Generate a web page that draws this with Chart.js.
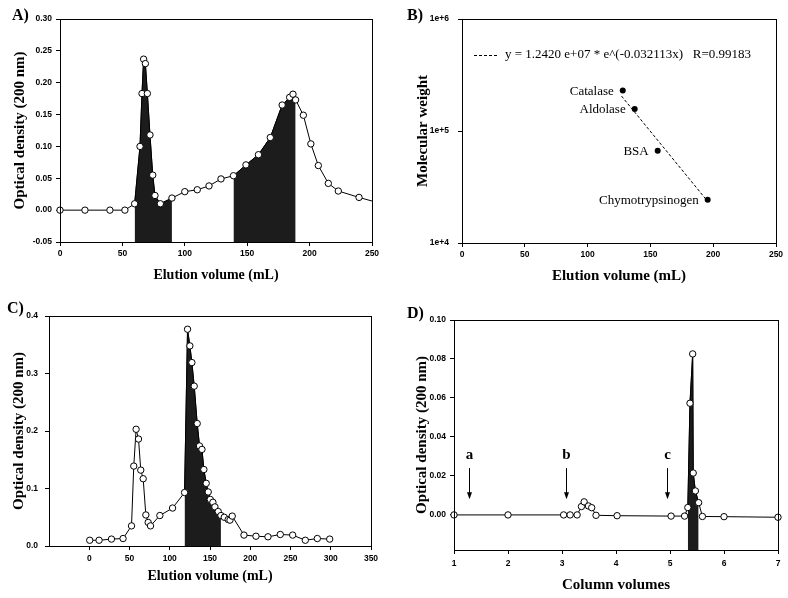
<!DOCTYPE html>
<html>
<head>
<meta charset="utf-8">
<script src="https://cdn.jsdelivr.net/npm/chart.js@4.4.0/dist/chart.umd.min.js"></script>
<style>
body { margin: 0; background: #fff; }
#wrap { position: relative; width: 788px; height: 598px; overflow: hidden; }
canvas { position: absolute; }
.panel { position: absolute; font: bold 16px "Liberation Serif", "Times New Roman", serif; line-height: 16px; color: #000; }
</style>
</head>
<body>
<div id="wrap">
  <canvas id="chartA" width="394" height="296" style="left:0;top:0"></canvas>
  <canvas id="chartB" width="394" height="296" style="left:394px;top:0"></canvas>
  <canvas id="chartC" width="394" height="302" style="left:0;top:296px"></canvas>
  <canvas id="chartD" width="394" height="302" style="left:394px;top:296px"></canvas>
  <div class="panel" style="left:12px;top:7px">A)</div>
  <div class="panel" style="left:407px;top:7px">B)</div>
  <div class="panel" style="left:7px;top:300px">C)</div>
  <div class="panel" style="left:407px;top:305px">D)</div>
</div>
<script>
// A) first column, elution profile
var aVolume = [0, 20, 40, 52, 59.8, 64.1, 65.7, 67, 68.4, 70, 72.1, 74.3, 76.1, 80.4, 89.7, 100, 110, 119.4, 129, 139, 149, 159, 168.5, 178, 184, 186.7, 188.8, 195, 201, 207, 215, 223, 239.6, 256];
var aDensity = [0, 0, 0, 0, 0.010, 0.100, 0.183, 0.237, 0.230, 0.183, 0.118, 0.055, 0.023, 0.010, 0.019, 0.029, 0.032, 0.038, 0.049, 0.054, 0.071, 0.087, 0.114, 0.165, 0.177, 0.182, 0.173, 0.149, 0.104, 0.070, 0.042, 0.030, 0.020, 0.011];
var aShade = [[59, 90], [138, 190]];
var aTicksX = [0, 50, 100, 150, 200, 250];
var aTicksY = [-0.05, 0, 0.05, 0.10, 0.15, 0.20, 0.25, 0.30];

// B) calibration standards
var bNames = ['Catalase', 'Aldolase', 'BSA', 'Chymotrypsinogen'];
var bVolume = [128, 137.5, 155.8, 195.6];
var bWeight = [230000, 157000, 66500, 24300];
var bFitVolume = [127, 195];
var bFitWeight = [205000, 24000];
var bTicksX = [0, 50, 100, 150, 200, 250];
var bTicksY = [1e4, 1e5, 1e6];
var bFitText = 'y = 1.2420 e+07 * e^(-0.032113x)   R=0.99183';

// C) second column
var cVolume = [0.6, 12.2, 27.6, 42, 52.5, 55.3, 58.2, 61.2, 64, 67, 70.3, 73.2, 76.1, 87.7, 103.5, 118.4, 122.1, 125, 127.5, 130.4, 134.1, 137, 140, 142.4, 145.3, 147.8, 150.3, 153.6, 156.1, 160.2, 163.6, 167.7, 172.6, 174.8, 177.6, 192.2, 207.1, 222, 237.3, 252.7, 268.4, 283.3, 298.7];
var cDensity = [0.010, 0.010, 0.012, 0.013, 0.035, 0.139, 0.203, 0.186, 0.132, 0.117, 0.054, 0.041, 0.035, 0.053, 0.066, 0.093, 0.377, 0.348, 0.319, 0.278, 0.213, 0.174, 0.168, 0.133, 0.109, 0.094, 0.081, 0.076, 0.068, 0.060, 0.053, 0.050, 0.046, 0.045, 0.052, 0.019, 0.017, 0.016, 0.020, 0.019, 0.010, 0.013, 0.012];
var cShade = [[118, 166]];
var cTicksX = [0, 50, 100, 150, 200, 250, 300, 350];
var cTicksY = [0, 0.1, 0.2, 0.3, 0.4];

// D) third column
var dVolume = [1.0, 2.0, 3.03, 3.15, 3.28, 3.36, 3.41, 3.49, 3.55, 3.63, 4.02, 5.02, 5.27, 5.33, 5.37, 5.42, 5.43, 5.47, 5.53, 5.6, 6.0, 7.0];
var dDensity = [0, 0, 0, 0, 0, 0.0043, 0.0067, 0.0046, 0.0037, -0.0002, -0.0004, -0.0006, -0.0006, 0.0038, 0.0573, 0.0826, 0.0215, 0.0123, 0.0063, -0.0008, -0.0009, -0.0012];
var dShade = [[5.3, 5.55]];
var dTicksX = [1, 2, 3, 4, 5, 6, 7];
var dTicksY = [0, 0.02, 0.04, 0.06, 0.08, 0.10];
var dArrowNames = ['a', 'b', 'c'];
var dArrowAt = [1.27, 3.07, 4.95];

Chart.defaults.color = '#000';
Chart.defaults.font.family = '"Liberation Sans", Arial, sans-serif';

var tickFont = { size: 8.5, weight: 'bold' };
var serif = '"Liberation Serif", "Times New Roman", serif';
var shadeColor = '#1c1c1c';

function pointsOf(xs, ys) {
  return xs.map(function(x, i) { return { x: x, y: ys[i] }; });
}

function shadeSets(xs, ys, ranges) {
  return ranges.map(function(r) {
    return {
      data: pointsOf(xs, ys).filter(function(p) { return p.x >= r[0] && p.x <= r[1]; }),
      borderColor: shadeColor,
      backgroundColor: shadeColor,
      borderWidth: 1,
      pointRadius: 0,
      fill: 'start'
    };
  });
}

function fixed(d) {
  return function(v) { return Number(v).toFixed(d); };
}

function makeScale(pos, type, min, max, ticks, fmt, title, titleSize, fit, tickPad, titlePad) {
  return {
    type: type,
    position: pos,
    min: min,
    max: max,
    afterBuildTicks: function(s) {
      s.ticks = ticks.map(function(v) { return { value: v }; });
    },
    afterFit: function(s) {
      if (pos === 'left') s.width = fit; else s.height = fit;
    },
    ticks: { font: tickFont, padding: tickPad, maxRotation: 0, autoSkip: false, callback: fmt },
    grid: { drawOnChartArea: false, drawTicks: true, tickLength: 4, color: '#000' },
    border: { display: false },
    title: {
      display: true,
      text: title,
      font: { family: serif, size: titleSize, weight: 'bold' },
      padding: pos === 'left' ? { top: titlePad, bottom: 0 } : { top: 0, bottom: titlePad }
    }
  };
}

var framePlugin = {
  id: 'frame',
  afterDraw: function(chart) {
    var a = chart.chartArea;
    var ctx = chart.ctx;
    ctx.save();
    ctx.strokeStyle = '#000';
    ctx.lineWidth = 1;
    ctx.strokeRect(Math.round(a.left) + 0.5, Math.round(a.top) + 0.5, Math.round(a.right - a.left), Math.round(a.bottom - a.top));
    ctx.restore();
  }
};

function profileLine(xs, ys, clip) {
  return {
    data: pointsOf(xs, ys),
    borderColor: '#000',
    borderWidth: 1,
    pointRadius: 3.2,
    pointBorderWidth: 1,
    pointBorderColor: '#000',
    pointBackgroundColor: '#fff',
    fill: false,
    clip: clip
  };
}

function baseOptions(padding, xScale, yScale) {
  return {
    responsive: false,
    animation: false,
    layout: { padding: padding },
    elements: { line: { tension: 0 } },
    plugins: { legend: { display: false }, tooltip: { enabled: false } },
    scales: { x: xScale, y: yScale }
  };
}

new Chart(document.getElementById('chartA').getContext('2d'), {
  type: 'line',
  data: {
    datasets: [profileLine(aVolume, aDensity, { left: 5, top: 5, right: 0, bottom: 5 })].concat(shadeSets(aVolume, aDensity, aShade))
  },
  options: baseOptions({ left: 0, top: 19, right: 22, bottom: 0 },
    makeScale('bottom', 'linear', 0, 250, aTicksX, fixed(0), 'Elution volume (mL)', 14, 54, 3, 12),
    makeScale('left', 'linear', -0.05, 0.30, aTicksY, fixed(2), 'Optical density (200 nm)', 15, 60, 4, 11)),
  plugins: [framePlugin]
});

var standardLabels = {
  id: 'standardLabels',
  afterDatasetsDraw: function(chart) {
    var ctx = chart.ctx;
    var a = chart.chartArea;
    var meta = chart.getDatasetMeta(0);
    ctx.save();
    ctx.fillStyle = '#000';
    ctx.font = '13px ' + serif;
    ctx.textAlign = 'right';
    ctx.textBaseline = 'middle';
    meta.data.forEach(function(pt, i) {
      ctx.fillText(bNames[i], pt.x - 9, pt.y + 1);
    });
    // fit legend
    var ly = a.top + 36;
    ctx.strokeStyle = '#000';
    ctx.lineWidth = 1;
    ctx.setLineDash([3, 2]);
    ctx.beginPath();
    ctx.moveTo(a.left + 12, ly + 0.5);
    ctx.lineTo(a.left + 35, ly + 0.5);
    ctx.stroke();
    ctx.setLineDash([]);
    ctx.textAlign = 'left';
    ctx.fillText(bFitText, a.left + 43, ly);
    ctx.restore();
  }
};

new Chart(document.getElementById('chartB').getContext('2d'), {
  type: 'line',
  data: {
    datasets: [{
      data: pointsOf(bVolume, bWeight),
      showLine: false,
      pointRadius: 3,
      pointBorderWidth: 0,
      pointBackgroundColor: '#000'
    }, {
      data: pointsOf(bFitVolume, bFitWeight),
      borderColor: '#000',
      borderWidth: 1,
      borderDash: [3, 2],
      pointRadius: 0,
      fill: false
    }]
  },
  options: baseOptions({ left: 0, top: 19, right: 12, bottom: 0 },
    makeScale('bottom', 'linear', 0, 250, bTicksX, fixed(0), 'Elution volume (mL)', 15, 53, 3, 11),
    makeScale('left', 'logarithmic', 1e4, 1e6, bTicksY, function(v) { return '1e+' + Math.round(Math.log10(v)); }, 'Molecular weight', 15, 68, 9, 20)),
  plugins: [framePlugin, standardLabels]
});

new Chart(document.getElementById('chartC').getContext('2d'), {
  type: 'line',
  data: {
    datasets: [profileLine(cVolume, cDensity, false)].concat(shadeSets(cVolume, cDensity, cShade))
  },
  options: baseOptions({ left: 0, top: 20, right: 23, bottom: 0 },
    makeScale('bottom', 'linear', -50, 350, cTicksX, fixed(0), 'Elution volume (mL)', 14, 52, 4, 13),
    makeScale('left', 'linear', 0, 0.4, cTicksY, fixed(1), 'Optical density (200 nm)', 15, 49, 7, 10)),
  plugins: [framePlugin]
});

var arrowPlugin = {
  id: 'arrows',
  afterDatasetsDraw: function(chart) {
    var xs = chart.scales.x;
    var ys = chart.scales.y;
    var ctx = chart.ctx;
    ctx.save();
    ctx.strokeStyle = '#000';
    ctx.fillStyle = '#000';
    ctx.lineWidth = 1;
    ctx.font = 'bold 15px ' + serif;
    ctx.textAlign = 'center';
    ctx.textBaseline = 'middle';
    dArrowAt.forEach(function(v, i) {
      var x = Math.round(xs.getPixelForValue(v)) + 0.5;
      var top = ys.getPixelForValue(0.024);
      var tip = ys.getPixelForValue(0.008);
      ctx.fillText(dArrowNames[i], x, ys.getPixelForValue(0.0305));
      ctx.beginPath();
      ctx.moveTo(x, top);
      ctx.lineTo(x, tip - 5);
      ctx.stroke();
      ctx.beginPath();
      ctx.moveTo(x, tip);
      ctx.lineTo(x - 2.5, tip - 7);
      ctx.lineTo(x + 2.5, tip - 7);
      ctx.closePath();
      ctx.fill();
    });
    ctx.restore();
  }
};

new Chart(document.getElementById('chartD').getContext('2d'), {
  type: 'line',
  data: {
    datasets: [profileLine(dVolume, dDensity, false)].concat(shadeSets(dVolume, dDensity, dShade))
  },
  options: baseOptions({ left: 0, top: 24, right: 10, bottom: 0 },
    makeScale('bottom', 'linear', 1, 7, dTicksX, fixed(0), 'Column volumes', 15, 48, 5, 4),
    makeScale('left', 'linear', -0.018, 0.10, dTicksY, fixed(2), 'Optical density (200 nm)', 15, 60, 4, 19)),
  plugins: [framePlugin, arrowPlugin]
});
</script>
</body>
</html>
